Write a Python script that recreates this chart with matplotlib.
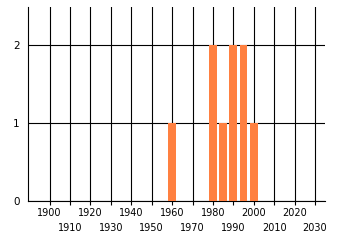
import matplotlib
matplotlib.use("Agg")
import matplotlib.pyplot as plt

years = [1960, 1980, 1985, 1990, 1995, 2000]
counts = [1, 2, 1, 2, 2, 1]
xticks_top = [1900, 1920, 1940, 1960, 1980, 2000, 2020]
xticks_bottom = [1910, 1930, 1950, 1970, 1990, 2010, 2030]
yticks = [0, 1, 2]

fig = plt.figure(figsize=(3.4, 2.45), dpi=100)
ax = fig.add_axes([28/340, 1 - 201.3/245, (325 - 28)/340, (201.3 - 7.3)/245])

ax.bar(years, counts, width=3.8, color="#FF8040", zorder=3)

ax.set_xlim(1889.4, 2034.9)
ax.set_ylim(0, 2.49)

ax.set_xticks(xticks_top)
ax.set_xticklabels([str(t) for t in xticks_top], fontsize=7)
ax.set_xticks(xticks_bottom, minor=True)
ax.set_xticklabels([str(t) for t in xticks_bottom], minor=True, fontsize=7)
ax.set_yticks(yticks)
ax.set_yticklabels([str(t) for t in yticks], fontsize=7.5)

ax.grid(True, which="both", axis="x", color="black", linewidth=0.8, zorder=1)
ax.grid(True, which="major", axis="y", color="black", linewidth=0.8, zorder=1)
ax.set_axisbelow(True)
for s in ["top", "right"]:
    ax.spines[s].set_visible(False)
ax.spines["left"].set_linewidth(0.8)
ax.spines["bottom"].set_linewidth(0.8)
ax.tick_params(axis="x", which="major", length=3, width=0.8, color="black", pad=2)
ax.tick_params(axis="x", which="minor", length=3, width=0.8, color="black", pad=12.5)
ax.tick_params(axis="y", length=0, pad=6)

fig.savefig("out.png", dpi=100)
